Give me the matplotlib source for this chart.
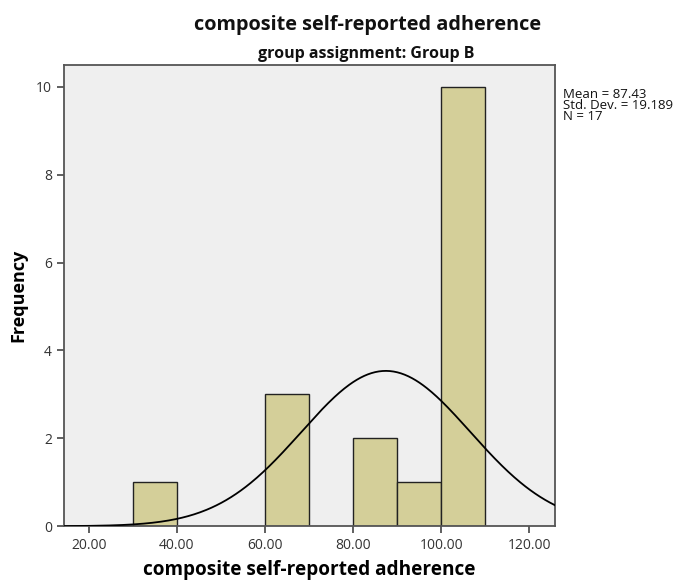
import numpy as np
import matplotlib
matplotlib.use("Agg")
from matplotlib import pyplot as plt

# histogram bins (left edges), bin width and counts
bin_left = [30, 60, 80, 90, 100]
bin_width = 10
counts = [1, 3, 2, 1, 10]

mean = 87.43
sd = 19.189
n = 17

xticks = [20, 40, 60, 80, 100, 120]
yticks = [0, 2, 4, 6, 8, 10]

plt.rcParams['font.family'] = ['Open Sans', 'DejaVu Sans']

fig = plt.figure(figsize=(6.85, 5.84), dpi=100)
ax = fig.add_axes([0.093, 0.099, 0.717, 0.79])
ax.set_facecolor('#efefef')

ax.bar(bin_left, counts, width=bin_width, align='edge',
       color='#d4cf99', edgecolor='#222222', linewidth=1.0, zorder=2)

# normal curve scaled to counts
x = np.linspace(14.3, 125.8, 400)
y = n * bin_width / (sd * np.sqrt(2 * np.pi)) * np.exp(-0.5 * ((x - mean) / sd) ** 2)
ax.plot(x, y, color='black', linewidth=1.3, zorder=3)

ax.set_xlim(14.3, 125.8)
ax.set_ylim(0, 10.5)
ax.set_xticks(xticks)
ax.set_xticklabels(['%.2f' % v for v in xticks])
ax.set_yticks(yticks)
ax.tick_params(direction='out', length=5, width=1.2, color='#444444',
               labelsize=10, labelcolor='#333333')
for s in ax.spines.values():
    s.set_color('#555555')
    s.set_linewidth(1.3)

ax.set_xlabel('composite self-reported adherence', fontsize=13.7,
              fontweight='bold', labelpad=5)
ax.set_ylabel('Frequency', fontsize=13, fontweight='bold', labelpad=6)

fig.text(0.537, 0.957, 'composite self-reported adherence', ha='center',
         va='center', fontsize=14.3, fontweight='bold', color='#111111')
fig.text(0.535, 0.908, 'group assignment: Group B', ha='center', va='center',
         fontsize=11.5, fontweight='bold', color='#111111')

fig.text(0.822, 0.85, 'Mean = %.2f\nStd. Dev. = %.3f\nN = %d' % (mean, sd, n),
         ha='left', va='top', fontsize=9.5, linespacing=0.8, color='#111111')

fig.savefig('out.png', dpi=100)
